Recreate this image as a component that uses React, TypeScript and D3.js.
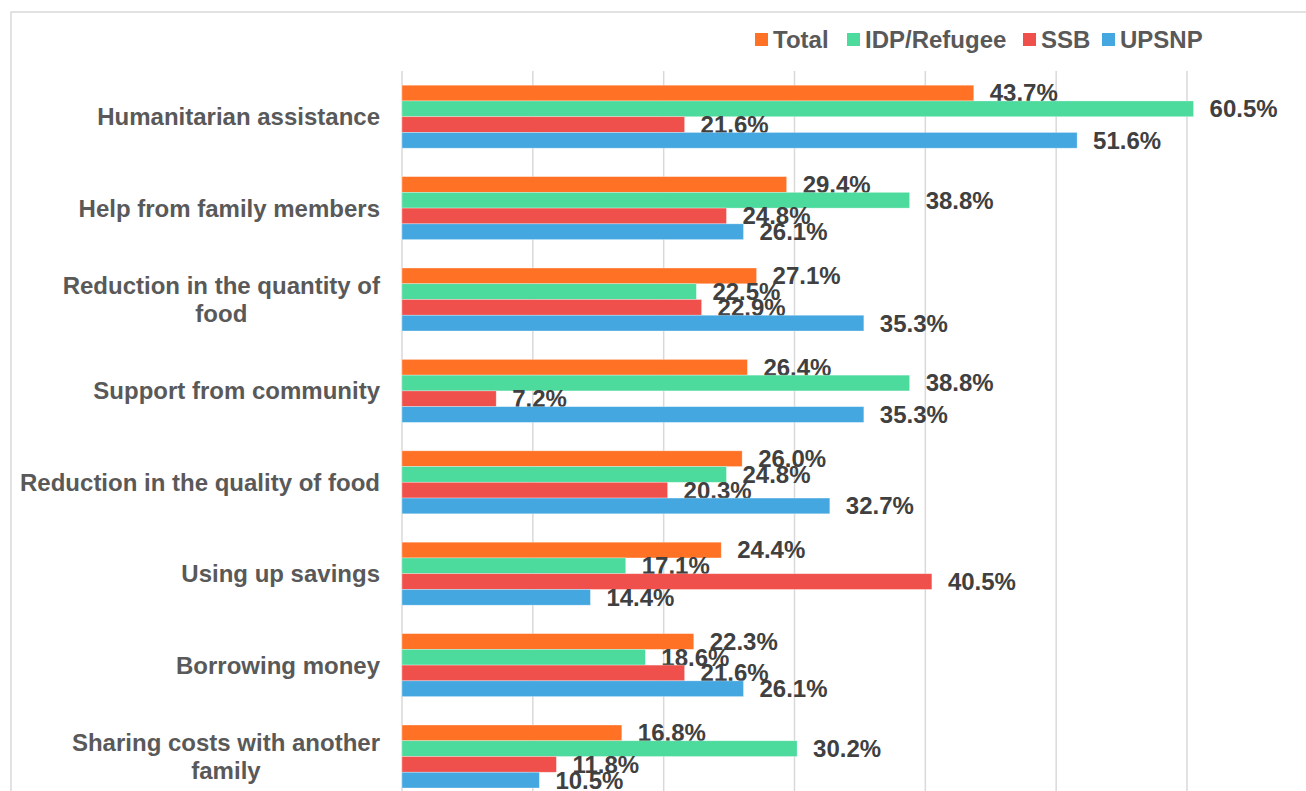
import React from "react";
import * as d3 from "d3";

const categories: string[][] = [
  ["Humanitarian assistance"],
  ["Help from family members"],
  ["Reduction in the quantity of", "food"],
  ["Support from community"],
  ["Reduction in the quality of food"],
  ["Using up savings"],
  ["Borrowing money"],
  ["Sharing costs with another", "family"],
];
const seriesNames = ["Total", "IDP/Refugee", "SSB", "UPSNP"];
const seriesColors = ["#FF7226", "#4CDA9D", "#EF504B", "#45A7E0"];
const total = [43.7, 29.4, 27.1, 26.4, 26.0, 24.4, 22.3, 16.8];
const idp = [60.5, 38.8, 22.5, 38.8, 24.8, 17.1, 18.6, 30.2];
const ssb = [21.6, 24.8, 22.9, 7.2, 20.3, 40.5, 21.6, 11.8];
const upsnp = [51.6, 26.1, 35.3, 35.3, 32.7, 14.4, 26.1, 10.5];
const seriesValues = [total, idp, ssb, upsnp];
const gridTicks = [0, 10, 20, 30, 40, 50, 60];

const FONT = "'Liberation Sans', Arial, sans-serif";

function measure(text: string): number {
  const c = document.createElement("canvas");
  const ctx = c.getContext("2d");
  if (!ctx) return text.length * 12;
  ctx.font = `bold 24px ${FONT}`;
  return ctx.measureText(text).width;
}

export default function App() {
  const W = 1306, H = 791;
  const x = d3.scaleLinear().domain([0, 60]).range([402, 1187]);
  const catKeys = categories.map((c) => c.join(" "));
  const y0 = d3.scaleBand<string>().domain(catKeys).range([71, 71 + 8 * 91.4]).paddingInner(0.311).paddingOuter(0.1555);
  const y1 = d3.scaleBand<string>().domain(seriesNames).range([0, y0.bandwidth()]);
  const legendX = [755, 847, 1023, 1102];
  const labelRight = 380;
  return (
    <svg width={W} height={H} style={{ position: "absolute", left: 0, top: 0, background: "#fff" }} fontFamily={FONT}>
      <rect x={11} y={12} width={1400} height={900} fill="#fff" stroke="#d9d9d9" strokeWidth={1.5} />
      {gridTicks.map((t) => (
        <line key={t} x1={x(t)} x2={x(t)} y1={71} y2={H} stroke="#d9d9d9" strokeWidth={1.5} />
      ))}
      {seriesNames.map((s, i) => (
        <g key={s}>
          <rect x={legendX[i]} y={33} width={13} height={13} fill={seriesColors[i]} />
          <text x={legendX[i] + 18} y={40} dy="0.35em" fontSize={24} fontWeight="bold" fill="#595959">{s}</text>
        </g>
      ))}
      {categories.map((lines, ci) => {
        const key = catKeys[ci];
        const gy = y0(key)!;
        const cy = gy + y0.bandwidth() / 2;
        const multi = lines.length > 1;
        const blockW = multi ? Math.max(...lines.map(measure)) : 0;
        return (
          <g key={key}>
            {lines.map((ln, li) => (
              <text
                key={li}
                x={multi ? labelRight - blockW / 2 : labelRight}
                y={cy + (li - (lines.length - 1) / 2) * 27.5}
                dy="0.35em"
                textAnchor={multi ? "middle" : "end"}
                fontSize={24}
                fontWeight="bold"
                fill="#595959"
              >
                {ln}
              </text>
            ))}
            {seriesNames.map((s, si) => {
              const v = seriesValues[si][ci];
              const by = gy + y1(s)!;
              return (
                <g key={s}>
                  <rect x={x(0)} y={by} width={x(v) - x(0)} height={y1.bandwidth()} fill={seriesColors[si]} stroke="#fff" strokeOpacity={0.4} strokeWidth={0.75} />
                  <text x={x(v) + 16} y={by + y1.bandwidth() / 2} dy="0.35em" fontSize={24} fontWeight="bold" fill="#404040">{v.toFixed(1) + "%"}</text>
                </g>
              );
            })}
          </g>
        );
      })}
    </svg>
  );
}
